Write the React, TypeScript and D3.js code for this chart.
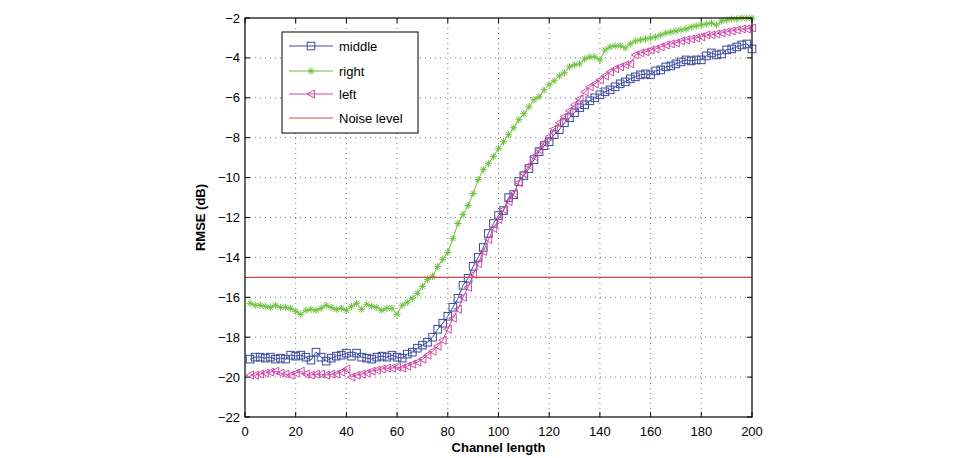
import React, { useRef, useEffect } from 'react';
import * as d3 from 'd3';

// channel length samples (2..200, step 2)
const channelLength: number[] = d3.range(2, 201, 2);

const middleRmse: number[] = [
  -19.1, -19.0, -19.0, -19.05, -19.0, -19.1, -19.05, -19.1, -18.9, -18.95,
  -18.9, -19.0, -19.15, -18.75, -19.0, -19.2, -19.05, -18.95, -18.9, -18.8,
  -18.95, -18.8, -19.0, -19.05, -19.1, -19.0, -18.95, -19.0, -18.9, -19.0,
  -19.05, -18.85, -18.75, -18.55, -18.4, -18.25, -18.0, -17.6, -17.3, -16.95,
  -16.5, -16.05, -15.4, -15.05, -14.45, -14.0, -13.5, -12.8, -12.3, -11.9,
  -11.65, -11.0, -10.85, -10.2, -9.9, -9.55, -9.1, -8.7, -8.4, -8.2,
  -7.85, -7.6, -7.25, -7.0, -6.75, -6.5, -6.35, -6.15, -6.0, -5.85,
  -5.7, -5.6, -5.45, -5.3, -5.2, -5.05, -4.95, -4.85, -4.8, -4.85,
  -4.65, -4.6, -4.45, -4.4, -4.3, -4.2, -4.1, -4.15, -4.1, -4.1,
  -3.9, -3.75, -3.85, -3.8, -3.6, -3.55, -3.45, -3.35, -3.3, -3.55,
];

const rightRmse: number[] = [
  -16.3, -16.4, -16.4, -16.45, -16.5, -16.4, -16.5, -16.5, -16.55, -16.7,
  -16.85, -16.65, -16.6, -16.65, -16.55, -16.4, -16.5, -16.6, -16.55, -16.65,
  -16.45, -16.3, -16.6, -16.35, -16.45, -16.5, -16.65, -16.55, -16.55, -16.85,
  -16.4, -16.25, -16.05, -15.8, -15.45, -15.1, -14.95, -14.45, -14.1, -13.75,
  -13.05, -12.3, -11.85, -11.4, -10.8, -10.1, -9.6, -9.3, -8.95, -8.55,
  -8.2, -7.85, -7.5, -7.1, -6.8, -6.45, -6.1, -5.95, -5.6, -5.35,
  -5.15, -4.9, -4.75, -4.45, -4.35, -4.3, -4.05, -3.95, -3.95, -4.1,
  -3.6, -3.45, -3.4, -3.4, -3.5, -3.3, -3.15, -3.1, -3.05, -3.0,
  -2.95, -2.85, -2.75, -2.7, -2.65, -2.6, -2.55, -2.45, -2.4, -2.35,
  -2.3, -2.25, -2.35, -2.15, -2.1, -2.05, -2.05, -2.0, -2.0, -2.0,
];

const leftRmse: number[] = [
  -19.9, -19.9, -19.85, -19.8, -19.75, -19.7, -19.8, -19.85, -19.9, -19.8,
  -19.7, -19.85, -19.9, -19.85, -19.85, -19.9, -19.85, -19.85, -19.75, -19.6,
  -20.0, -19.9, -19.85, -19.8, -19.7, -19.65, -19.6, -19.55, -19.55, -19.5,
  -19.55, -19.45, -19.35, -19.25, -19.1, -18.9, -18.7, -18.45, -18.15, -17.6,
  -17.05, -16.6, -16.0, -15.5, -14.85, -14.3, -13.7, -13.1, -12.55, -12.1,
  -11.6, -11.2, -10.8, -10.25, -9.8, -9.4, -8.95, -8.6, -8.25, -7.95,
  -7.55, -7.25, -6.95, -6.65, -6.35, -6.05, -5.7, -5.45, -5.3, -5.1,
  -4.9, -4.7, -4.55, -4.45, -4.35, -4.3, -3.85, -3.75, -3.7, -3.6,
  -3.55, -3.45, -3.35, -3.3, -3.25, -3.15, -3.1, -3.05, -3.0, -2.95,
  -2.85, -2.85, -2.8, -2.75, -2.7, -2.65, -2.6, -2.55, -2.55, -2.5,
];

const noiseLevel = -15;

const xTicks: number[] = [0, 20, 40, 60, 80, 100, 120, 140, 160, 180, 200];
const yTicks: number[] = [-22, -20, -18, -16, -14, -12, -10, -8, -6, -4, -2];

const seriesNames: string[] = ['middle', 'right', 'left', 'Noise level'];

const W = 964;
const H = 458;
const FONT = '"Liberation Sans", Arial, Helvetica, sans-serif';

export default function App() {
  const ref = useRef<SVGSVGElement>(null);

  useEffect(() => {
    const svg = d3.select(ref.current);
    svg.selectAll('*').remove();

    const left = 245, right = 752, top = 18, bottom = 417;
    const x = d3.scaleLinear().domain([0, 200]).range([left, right]);
    const y = d3.scaleLinear().domain([-22, -2]).range([bottom, top]);

    svg.append('rect').attr('width', W).attr('height', H).attr('fill', '#fff');

    // dotted grid
    const grid = svg.append('g').attr('stroke', '#555').attr('stroke-width', 0.8)
      .attr('stroke-dasharray', '1,4');
    xTicks.slice(1, -1).forEach(t => {
      grid.append('line').attr('x1', x(t)).attr('x2', x(t)).attr('y1', top).attr('y2', bottom);
    });
    yTicks.slice(1, -1).forEach(t => {
      grid.append('line').attr('x1', left).attr('x2', right).attr('y1', y(t)).attr('y2', y(t));
    });

    // inward ticks on all four sides
    const tickLen = 5;
    const ticks = svg.append('g').attr('stroke', '#000').attr('stroke-width', 1);
    xTicks.forEach(t => {
      ticks.append('line').attr('x1', x(t)).attr('x2', x(t)).attr('y1', bottom).attr('y2', bottom - tickLen);
      ticks.append('line').attr('x1', x(t)).attr('x2', x(t)).attr('y1', top).attr('y2', top + tickLen);
    });
    yTicks.forEach(t => {
      ticks.append('line').attr('x1', left).attr('x2', left + tickLen).attr('y1', y(t)).attr('y2', y(t));
      ticks.append('line').attr('x1', right).attr('x2', right - tickLen).attr('y1', y(t)).attr('y2', y(t));
    });

    const fmt = (v: number) => (v < 0 ? '\u2212' + Math.abs(v) : String(v));

    svg.append('g').selectAll('text').data(xTicks).join('text')
      .attr('x', d => x(d)).attr('y', bottom + 19)
      .attr('text-anchor', 'middle').attr('font-family', FONT).attr('font-size', 13)
      .text(d => fmt(d));
    svg.append('g').selectAll('text').data(yTicks).join('text')
      .attr('x', left - 5).attr('y', d => y(d) + 4.5)
      .attr('text-anchor', 'end').attr('font-family', FONT).attr('font-size', 13)
      .text(d => fmt(d));

    svg.append('text').attr('x', (left + right) / 2).attr('y', 452)
      .attr('text-anchor', 'middle').attr('font-family', FONT).attr('font-size', 13)
      .attr('font-weight', 'bold').text('Channel length');
    svg.append('text')
      .attr('transform', `translate(205,${(top + bottom) / 2}) rotate(-90)`)
      .attr('text-anchor', 'middle').attr('font-family', FONT).attr('font-size', 13)
      .attr('font-weight', 'bold').text('RMSE (dB)');

    const blue = '#3a4a9c', green = '#6cc03a', pink = '#d04aa8', red = '#dc4444';

    const line = d3.line<[number, number]>().x(d => x(d[0])).y(d => y(d[1]));
    const plot = svg.append('g');

    const drawSeries = (vals: number[], color: string, marker: (g: any, cx: number, cy: number) => void) => {
      const pts: [number, number][] = channelLength.map((c, i) => [c, vals[i]]);
      plot.append('path').attr('d', line(pts)).attr('fill', 'none').attr('stroke', color).attr('stroke-width', 1);
      const mg = plot.append('g').attr('stroke', color).attr('fill', 'none').attr('stroke-width', 1);
      pts.forEach(p => marker(mg, x(p[0]), y(p[1])));
    };

    const square = (g: any, cx: number, cy: number) => {
      g.append('rect').attr('x', cx - 3.8).attr('y', cy - 3.8).attr('width', 7.6).attr('height', 7.6);
    };
    const star = (g: any, cx: number, cy: number) => {
      const r = 3.6, d = 2.6;
      g.append('path').attr('d',
        `M${cx - r},${cy}L${cx + r},${cy}M${cx},${cy - r}L${cx},${cy + r}` +
        `M${cx - d},${cy - d}L${cx + d},${cy + d}M${cx - d},${cy + d}L${cx + d},${cy - d}`);
    };
    const triLeft = (g: any, cx: number, cy: number) => {
      g.append('path').attr('d', `M${cx - 4},${cy}L${cx + 3.4},${cy - 4}L${cx + 3.4},${cy + 4}Z`);
    };

    drawSeries(middleRmse, blue, square);
    drawSeries(rightRmse, green, star);
    drawSeries(leftRmse, pink, triLeft);

    plot.append('line').attr('x1', x(0)).attr('x2', x(200))
      .attr('y1', y(noiseLevel)).attr('y2', y(noiseLevel))
      .attr('stroke', red).attr('stroke-width', 1.2);

    // frame
    svg.append('rect').attr('x', left).attr('y', top).attr('width', right - left).attr('height', bottom - top)
      .attr('fill', 'none').attr('stroke', '#000').attr('stroke-width', 1.2);

    // legend
    const lg = svg.append('g');
    lg.append('rect').attr('x', 282).attr('y', 32).attr('width', 136).attr('height', 101)
      .attr('fill', '#fff').attr('stroke', '#000').attr('stroke-width', 1);
    const rowY = [46, 71, 94, 118];
    const colors = [blue, green, pink, red];
    const markers = [square, star, triLeft, null];
    seriesNames.forEach((name, i) => {
      lg.append('line').attr('x1', 289).attr('x2', 333).attr('y1', rowY[i]).attr('y2', rowY[i])
        .attr('stroke', colors[i]).attr('stroke-width', 1);
      const m = markers[i];
      if (m) {
        const mg = lg.append('g').attr('stroke', colors[i]).attr('fill', 'none');
        m(mg, 311, rowY[i]);
      }
      lg.append('text').attr('x', 339).attr('y', rowY[i] + 4.5)
        .attr('font-family', FONT).attr('font-size', 13).text(name);
    });
  }, []);

  return (
    <svg ref={ref} width={W} height={H}
      style={{ position: 'absolute', left: 0, top: 0, display: 'block' }} />
  );
}
